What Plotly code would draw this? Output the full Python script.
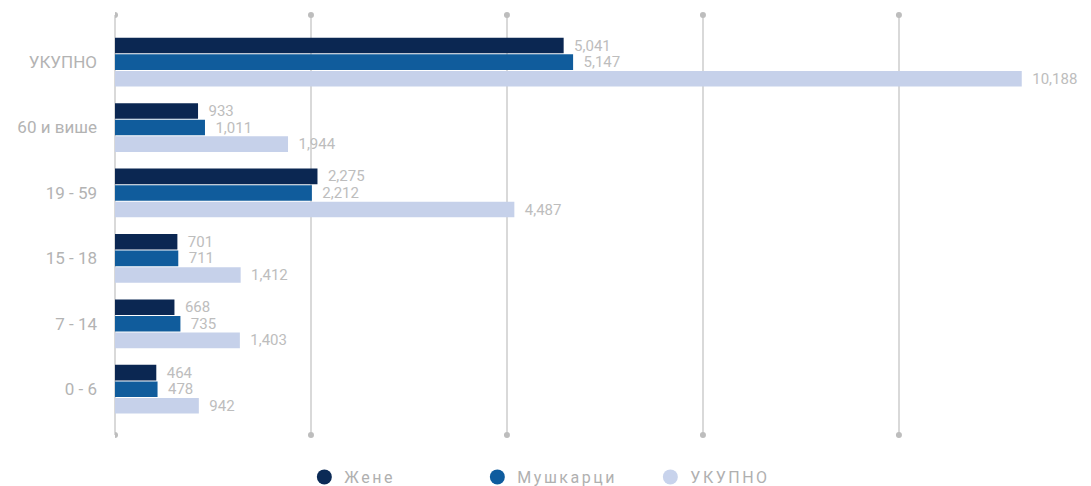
import plotly.graph_objects as go

categories = ["УКУПНО", "60 и више", "19 - 59", "15 - 18", "7 - 14", "0 - 6"]
zene = [5041, 933, 2275, 701, 668, 464]
muskarci = [5147, 1011, 2212, 711, 735, 478]
ukupno = [10188, 1944, 4487, 1412, 1403, 942]

series_names = ["Жене", "Мушкарци", "УКУПНО"]
series_values = [zene, muskarci, ukupno]
bar_colors = ["#0b2752", "#105c9c", "#c6d1ea"]
legend_colors = ["#0b2a56", "#0f5c9e", "#c8d3ec"]

fig = go.Figure()
for name, vals, col in zip(series_names, series_values, bar_colors):
    fig.add_trace(go.Bar(
        y=categories, x=vals, orientation="h", name=name,
        marker=dict(color=col, line=dict(width=0)),
        text=vals, texttemplate="\u00a0\u00a0%{x:,}", textposition="outside",
        constraintext="none",
        textfont=dict(family="Roboto", size=15, color="#bdbdbd"),
        cliponaxis=False, showlegend=False, hoverinfo="x+y",
    ))
for name, col in zip(series_names, legend_colors):
    fig.add_trace(go.Scatter(
        x=[None], y=[None], mode="markers", name=name,
        marker=dict(color=col, size=15, symbol="circle"),
    ))

xmax = 10966
dtick = 2202
shapes = []
v = 0
while v < xmax:
    for yy in (0, 1):
        shapes.append(dict(type="circle", xref="x", yref="paper",
                           xsizemode="pixel", ysizemode="pixel",
                           xanchor=v, yanchor=yy, x0=-3, x1=3, y0=-3, y1=3,
                           fillcolor="#bdbdbd", line=dict(width=0), layer="above"))
    v += dtick

fig.update_layout(
    width=1091, height=486,
    margin=dict(l=115, r=0, t=15, b=51, autoexpand=False),
    paper_bgcolor="white", plot_bgcolor="white",
    barmode="group", bargap=0.24, bargroupgap=0.06,
    font=dict(family="Roboto", color="#b0b0b0"),
    shapes=shapes,
    xaxis=dict(range=[0, xmax], tick0=0, dtick=dtick, showgrid=True,
               gridcolor="#d9d9d9", gridwidth=2, zeroline=True,
               zerolinecolor="#d9d9d9", zerolinewidth=2, automargin=False,
               showticklabels=False, showline=False, fixedrange=True),
    yaxis=dict(type="category", categoryorder="array", categoryarray=categories,
               range=[5.70, -0.72], showgrid=False, zeroline=False, automargin=False,
               tickfont=dict(family="Roboto", size=17, color="#b3b3b3"),
               ticklabelstandoff=17, showline=False, ticks="", fixedrange=True),
    legend=dict(orientation="h", x=0.194, xanchor="left",
                yref="container", y=0.0185, yanchor="middle",
                entrywidth=128, entrywidthmode="pixels",
                font=dict(family="Roboto", size=16, color="#b0b0b0"),
                itemclick=False, itemdoubleclick=False),
)

fig.write_html(
    "out.html",
    config={"displayModeBar": False},
    post_script=(
        "document.body.style.margin='0px';"
        "document.querySelectorAll('.legendtext').forEach(function(e){e.style.letterSpacing='2.5px';});"
    ),
)
